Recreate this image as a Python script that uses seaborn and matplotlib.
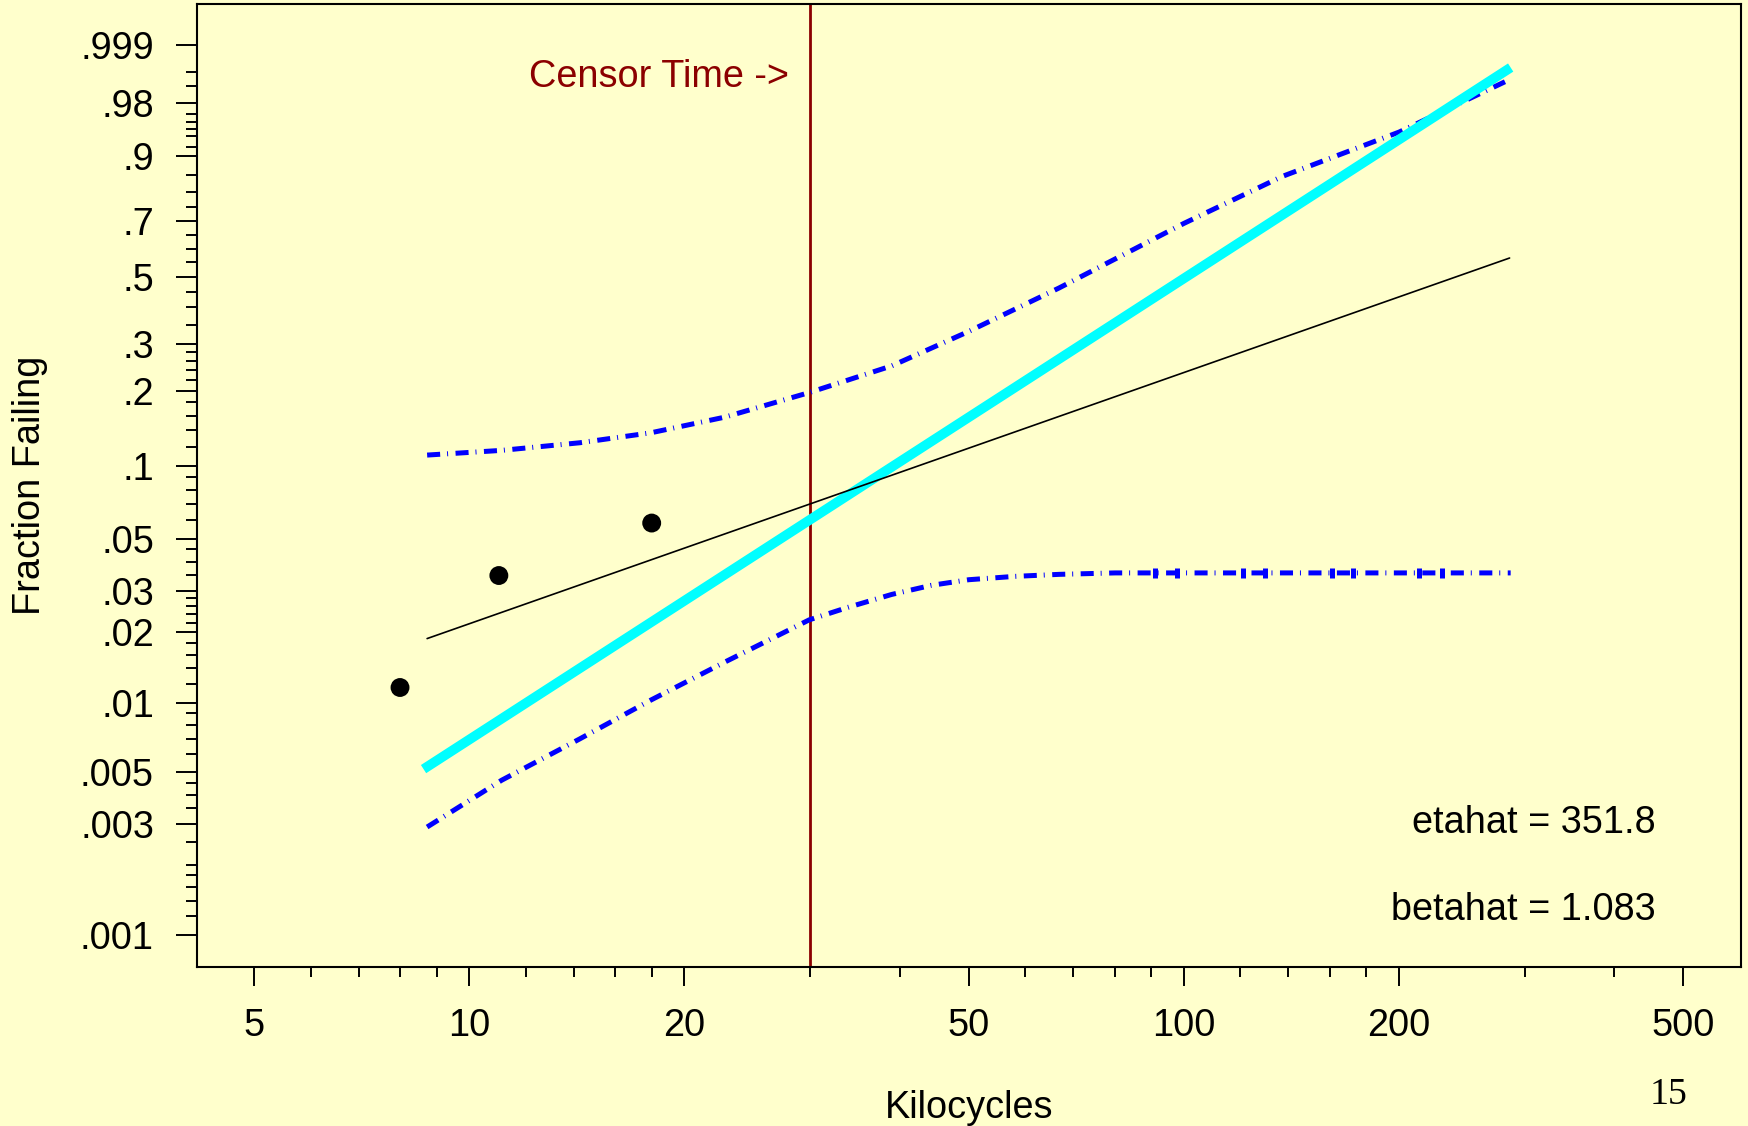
import numpy as np
import pandas as pd
import matplotlib
matplotlib.use("Agg")
import matplotlib.pyplot as plt
import matplotlib.ticker as mticker
import seaborn as sns

# ---------------- data ----------------
point_x = [8.0, 11.0, 18.0]
point_p = [0.0116, 0.0349, 0.0581]

censor_time = 30

cyan_x = [8.63, 286.6]
cyan_p = [0.00517, 0.9961]

fit_x = [8.73, 285.6]
fit_p = [0.0188, 0.566]

upper_x = [8.73, 11.1, 14.27, 17.96, 22.77, 29.9, 39.0, 50.0, 66.9, 100.0, 137.2, 200.0, 281.4]
upper_p = [0.111, 0.116, 0.1245, 0.1366, 0.1576, 0.1967, 0.2484, 0.3313, 0.462, 0.692, 0.847, 0.946, 0.9919]

lower_x = [8.73, 11.1, 14.27, 17.96, 22.77, 29.9, 33.8, 39.0, 44.3, 50.0, 57.9, 66.9, 80.1, 286.6]
lower_p = [0.00291, 0.00463, 0.00697, 0.01025, 0.0149, 0.0226, 0.0255, 0.029, 0.0317, 0.0335, 0.0346, 0.0353, 0.0358, 0.0358]

flat_mark_x = [91.1, 97.9, 121.0, 130.0, 161.3, 172.7, 213.5, 229.4]
flat_mark_p = [0.0358] * 8

x_major = [5, 10, 20, 50, 100, 200, 500]
x_major_labels = ["5", "10", "20", "50", "100", "200", "500"]
x_minor = [6, 7, 8, 9, 12, 14, 16, 18, 30, 40, 60, 70, 80, 90, 120, 140, 160, 180, 300, 400]

y_major = [0.001, 0.003, 0.005, 0.01, 0.02, 0.03, 0.05, 0.1, 0.2, 0.3, 0.5, 0.7, 0.9, 0.98, 0.999]
y_major_labels = [".001", ".003", ".005", ".01", ".02", ".03", ".05", ".1", ".2", ".3", ".5", ".7", ".9", ".98", ".999"]
y_minor = [0.0012, 0.0014, 0.0016, 0.0018, 0.002, 0.0025, 0.0035, 0.004, 0.0045,
           0.006, 0.007, 0.008, 0.009, 0.012, 0.014, 0.016, 0.018,
           0.022, 0.024, 0.026, 0.028, 0.035, 0.04, 0.045,
           0.06, 0.07, 0.08, 0.09, 0.12, 0.14, 0.16, 0.18,
           0.22, 0.24, 0.26, 0.28, 0.35, 0.4, 0.45, 0.55, 0.6, 0.65,
           0.75, 0.8, 0.85, 0.92, 0.94, 0.95, 0.96, 0.97, 0.99, 0.995]

eta_text = "etahat = 351.8"
beta_text = "betahat = 1.083"
censor_label = "Censor Time ->"
page_number = "15"

# ---------------- style ----------------
BG = "#FFFFCC"
FS = 27.3
sns.set_theme(style="ticks")
plt.rcParams["font.family"] = ["Liberation Sans", "DejaVu Sans"]
plt.rcParams["lines.scale_dashes"] = False
plt.rcParams["axes.unicode_minus"] = False

fig = plt.figure(figsize=(17.48, 11.26), dpi=100, facecolor=BG)
ax = fig.add_axes([197 / 1748, 1 - 966.5 / 1126, (1741 - 197) / 1748, (966.5 - 4) / 1126])
ax.set_facecolor(BG)


def fwd(p):
    p = np.clip(np.asarray(p, dtype=float), 1e-12, 1 - 1e-12)
    return np.log(-np.log1p(-p))


def inv(w):
    return -np.expm1(-np.exp(np.asarray(w, dtype=float)))


ax.set_xscale("log")
ax.set_yscale("function", functions=(fwd, inv))

dashdot = (0, (9.4, 5.0, 0.7, 5.4))

# confidence bands
sns.lineplot(x=upper_x, y=upper_p, ax=ax, sort=False, estimator=None,
             color="#0000FF", lw=3.6, linestyle=dashdot, zorder=3)
sns.lineplot(x=lower_x, y=lower_p, ax=ax, sort=False, estimator=None,
             color="#0000FF", lw=3.6, linestyle=dashdot, zorder=3)
ax.plot(flat_mark_x, flat_mark_p, ls="none", marker="|", ms=7.5, mew=3.6,
        color="#0000FF", zorder=3)

# true / fitted lines
sns.lineplot(x=cyan_x, y=cyan_p, ax=ax, sort=False, estimator=None,
             color="#00FFFF", lw=7.0, zorder=4, solid_capstyle="butt")
sns.lineplot(x=fit_x, y=fit_p, ax=ax, sort=False, estimator=None,
             color="black", lw=1.2, zorder=5)

# data points
sns.scatterplot(x=point_x, y=point_p, ax=ax, color="black", s=185,
                edgecolor="none", zorder=6)

# censor line
ax.axvline(censor_time, color="#8B0000", lw=2.0, zorder=2)
ax.annotate(censor_label, xy=(censor_time, 0.9242),
            xycoords=("data", "axes fraction"), xytext=(-15, 0),
            textcoords="offset points", ha="right", va="center",
            fontsize=FS, color="#8B0000")

# limits
ax.set_xlim(4.159, 602)
ax.set_ylim(inv(-7.225), inv(2.345))

# ticks
ax.xaxis.set_major_locator(mticker.FixedLocator(x_major))
ax.xaxis.set_major_formatter(mticker.FixedFormatter(x_major_labels))
ax.xaxis.set_minor_locator(mticker.FixedLocator(x_minor))
ax.xaxis.set_minor_formatter(mticker.NullFormatter())
ax.yaxis.set_major_locator(mticker.FixedLocator(y_major))
ax.yaxis.set_major_formatter(mticker.FixedFormatter(y_major_labels))
ax.yaxis.set_minor_locator(mticker.FixedLocator(y_minor))
ax.yaxis.set_minor_formatter(mticker.NullFormatter())

ax.tick_params(axis="x", which="major", length=13.7, width=1.4, pad=16,
               labelsize=FS, color="black", labelcolor="black", direction="out")
ax.tick_params(axis="x", which="minor", length=7.2, width=1.4, color="black", direction="out")
ax.tick_params(axis="y", which="major", length=15, width=1.4, pad=16,
               labelsize=FS, color="black", labelcolor="black", direction="out")
ax.tick_params(axis="y", which="minor", length=8, width=1.4, color="black", direction="out")

for sp in ax.spines.values():
    sp.set_visible(True)
    sp.set_color("black")
    sp.set_linewidth(1.5)

ax.grid(False)

ax.set_xlabel("Kilocycles", fontsize=FS, color="black", va="center")
ax.xaxis.set_label_coords(0.5, (966.5 - 1108) / 962.5)
ax.set_ylabel("Fraction Failing", fontsize=FS, color="black", va="center")
ax.yaxis.set_label_coords((30 - 197) / 1544, 0.5)

ax.text(0.9446, 0.1491, eta_text, transform=ax.transAxes, ha="right",
        va="center", fontsize=FS, color="black")
ax.text(0.9446, 0.0587, beta_text, transform=ax.transAxes, ha="right",
        va="center", fontsize=FS, color="black")

fig.text(1669 / 1748, 1 - 1095 / 1126, page_number, ha="center", va="center",
         fontsize=FS, color="black", family=["Liberation Serif", "DejaVu Serif"])

fig.savefig("out.png", dpi=100, facecolor=BG)
